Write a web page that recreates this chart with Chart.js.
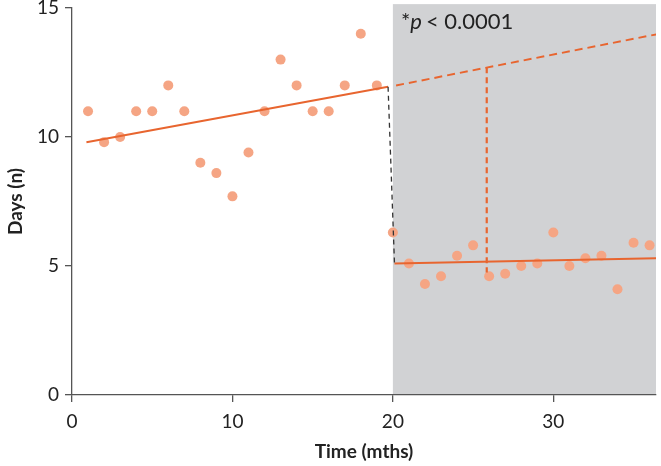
<!DOCTYPE html>
<html>
<head>
<meta charset="utf-8">
<script src="https://cdn.jsdelivr.net/npm/chart.js@4/dist/chart.umd.min.js"></script>
<style>
body{margin:0;background:#fff;}
#holder{width:661px;height:466px;}
</style>
</head>
<body>
<div id="holder"><canvas id="chart"></canvas></div>
<script>
// observed months / days
var preMonths = [1,2,3,4,5,6,7,8,9,10,11,12,13,14,15,16,17,18,19];
var preDays = [11,9.8,10,11,11,12,11,9,8.6,7.7,9.4,11,13,12,11,11,12,14,12];
var postMonths = [20,21,22,23,24,25,26,27,28,29,30,31,32,33,34,35,36];
var postDays = [6.3,5.1,4.3,4.6,5.4,5.8,4.6,4.7,5.0,5.1,6.3,5.0,5.3,5.4,4.1,5.9,5.8];

// fitted segments
var preTrendX = [0.9, 19.7];
var preTrendY = [9.8, 11.95];
var postTrendX = [20.1, 36.4];
var postTrendY = [5.1, 5.3];
var projX = [20.2, 36.6];
var projY = [12.0, 14.0];
var gapX = [25.85, 25.85];
var gapY = [12.7, 4.75];
var dropX = [19.7, 20.1];
var dropY = [11.95, 5.1];

var xTicks = [0, 10, 20, 30];
var shadeFrom = 20, shadeTo = 36.4;

var orange = '#e8652f';
var dotColor = '#f5a584';

function pts(xs, ys) {
	var out = [];
	for (var i = 0; i < xs.length; i++) out.push({x: xs[i], y: ys[i]});
	return out;
}

var shadePlugin = {
	id: 'shade',
	beforeDraw: function(chart) {
		var x = chart.scales.x, y = chart.scales.y, ctx = chart.ctx;
		var l = x.getPixelForValue(shadeFrom), r = x.getPixelForValue(shadeTo);
		var t = y.getPixelForValue(15.15), b = y.getPixelForValue(0);
		ctx.save();
		ctx.fillStyle = '#d1d2d4';
		ctx.fillRect(l, t, r - l, b - t);
		ctx.restore();
	},
	afterDatasetsDraw: function(chart) {
		var x = chart.scales.x, y = chart.scales.y, ctx = chart.ctx;
		var px = x.getPixelForValue(20.5), py = y.getPixelForValue(14.2);
		ctx.save();
		ctx.fillStyle = '#222';
		ctx.textBaseline = 'alphabetic';
		ctx.font = '22px Lato';
		ctx.fillText('*', px, py);
		px += ctx.measureText('*').width;
		ctx.font = 'italic 22px Lato';
		ctx.fillText('p', px, py);
		px += ctx.measureText('p').width + 4;
		ctx.font = '22px Lato';
		ctx.fillText('< 0.0001', px, py);
		ctx.restore();
	}
};

function line(data, color, width, dash) {
	return {
		type: 'scatter', data: data, showLine: true,
		borderColor: color, borderWidth: width, borderDash: dash || [],
		pointRadius: 0, pointHoverRadius: 0, fill: false
	};
}

var config = {
	type: 'scatter',
	data: {
		datasets: [
			line(pts(dropX, dropY), '#333', 1.3, [5, 4]),
			line(pts(preTrendX, preTrendY), orange, 2),
			line(pts(postTrendX, postTrendY), orange, 2),
			line(pts(projX, projY), orange, 2, [8, 5]),
			line(pts(gapX, gapY), orange, 2.2, [6, 4]),
			{data: pts(preMonths, preDays), backgroundColor: dotColor, borderWidth: 0, pointRadius: 5},
			{data: pts(postMonths, postDays), backgroundColor: dotColor, borderWidth: 0, pointRadius: 5}
		]
	},
	options: {
		responsive: true,
		maintainAspectRatio: false,
		animation: false,
		layout: {padding: {top: 8, right: 2}},
		plugins: {legend: {display: false}, tooltip: {enabled: false}},
		scales: {
			x: {
				type: 'linear', min: 0, max: shadeTo,
				afterFit: function(s) { s.height = 71; s.paddingLeft = 0; s.paddingRight = 0; },
				afterBuildTicks: function(s) { s.ticks = xTicks.map(function(v){ return {value: v}; }); },
				ticks: {color: '#222', font: {family: 'Lato', size: 19}, padding: 8},
				grid: {drawOnChartArea: false, tickLength: 7, color: '#555', lineWidth: 1.3},
				border: {color: '#555', width: 1.3},
				title: {display: true, text: 'Time (mths)', color: '#222', font: {family: 'Lato', size: 19, weight: 'bold'}, padding: {top: 0, bottom: 3}}
			},
			y: {
				min: 0, max: 15,
				afterFit: function(s) { s.width = 72; s.paddingTop = 0; s.paddingBottom = 0; },
				ticks: {stepSize: 5, color: '#222', font: {family: 'Lato', size: 19}, padding: 6},
				grid: {drawOnChartArea: false, tickLength: 7, color: '#555', lineWidth: 1.3},
				border: {color: '#555', width: 1.3},
				title: {display: true, text: 'Days (n)', color: '#222', font: {family: 'Lato', size: 19, weight: 'bold'}, padding: {top: 4, bottom: 0}}
			}
		}
	},
	plugins: [shadePlugin]
};

new Chart(document.getElementById('chart'), config);
</script>
</body>
</html>
